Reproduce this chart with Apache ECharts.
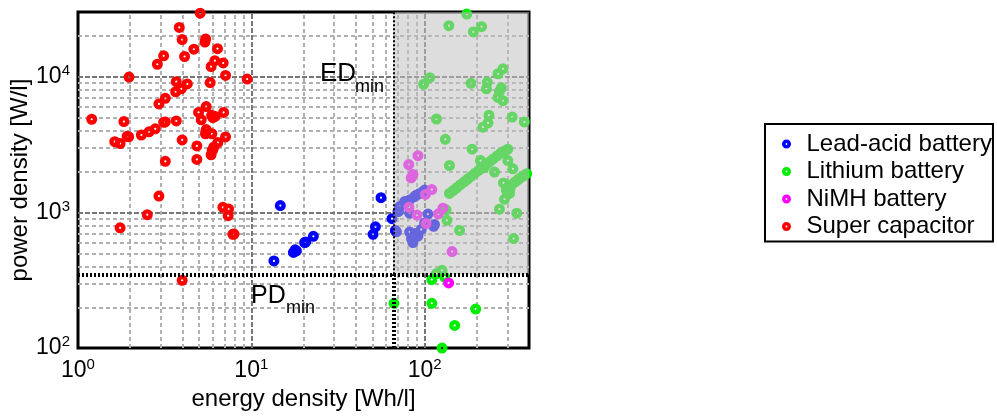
<!DOCTYPE html>
<html lang="en">
<head>
<meta charset="UTF-8">
<title>Energy density vs power density</title>
<script src="https://cdn.jsdelivr.net/npm/echarts@6/dist/echarts.min.js"></script>
<style>
  html, body { margin: 0; padding: 0; background: #fff; }
  #chart { width: 997px; height: 416px; }
</style>
</head>
<body>
<div id="chart"></div>
<script>
// axis ranges and the two threshold lines
const xRange = [1, 400];
const yRange = [100, 30000];
const edMin = 66;
const pdMin = 350;

// [energy density Wh/l, power density W/l]
const leadAcid = [
  [14.7, 1124], [13.5, 439], [17.5, 507], [17.9, 530], [18.2, 520], [20.3, 599], [20.6, 605],
  [22.8, 667], [52, 783], [50.4, 689], [56, 1285], [64.8, 900],
  [100, 1460], [93.6, 1380], [87.5, 1306], [81.9, 1236], [76.7, 1202], [71.8, 1105], [70.2, 1016],
  [81.9, 988], [104.5, 972], [114, 814], [100, 836], [68.7, 720], [81.9, 716], [85.6, 599],
  [91.5, 670], [95.6, 749], [112.7, 790], [67.8, 737], [78.6, 1200], [89.5, 1340], [97.8, 1420],
  [70.6, 1016], [84, 640], [88, 700]
];

const lithium = [
  [175, 28950], [138, 23800], [191, 21400], [213, 23400], [283, 11430], [265, 10520], [107, 9840],
  [98.6, 8800], [185, 8940], [230, 9090], [227, 8140], [277, 8280], [270, 7770], [265, 7040],
  [283, 6660], [117, 4880], [235, 5210], [232, 4565], [217, 4250], [320, 5045], [376, 4640],
  [131.6, 3455], [188, 2924], [139, 2217], [210, 2410], [220, 2130], [253, 1983], [302, 2410],
  [323, 2094], [285, 1650], [296, 1460], [309, 1380], [289, 1250], [270, 1057], [340, 988],
  [133, 1046], [134.5, 875], [159, 737], [326, 641], [300, 1420], [310, 1480],
  [110, 320], [117, 354], [126, 374], [130.5, 334], [66.5, 214], [110, 214], [197, 194],
  [149, 147], [126, 100],
  [139, 1380], [146, 1450], [153, 1520], [161, 1600], [169, 1680], [177, 1760], [186, 1850],
  [195, 1940], [205, 2040], [215, 2140], [226, 2250], [237, 2360], [249, 2480], [262, 2610],
  [275, 2740], [289, 2830], [302, 2924],
  [296, 1500], [308, 1555], [320, 1615], [333, 1680], [346, 1745], [360, 1810], [374, 1870], [388, 1930]
];

const nimh = [
  [91.5, 2620], [80.9, 2254], [85.6, 1907], [83.6, 1800], [110, 1475], [101, 1357], [81.2, 1093],
  [90.3, 956], [120, 976], [127.5, 1074], [102, 828], [144, 515], [137.5, 302]
];

const superCap = [
  [5.07, 29400], [3.84, 23100], [3.99, 18800], [5.40, 18000], [5.45, 19000], [4.66, 15950],
  [6.38, 16100], [3.12, 14260], [4.12, 14100], [2.87, 12360], [6.16, 13130], [5.86, 11880],
  [6.88, 12630], [7.10, 10230], [1.97, 9950], [9.46, 9620], [3.69, 9200], [4.27, 8850],
  [5.79, 9050], [3.66, 7750], [3.94, 8140], [3.19, 6930], [2.93, 6300], [1.20, 4860], [1.84, 4670],
  [5.49, 6030], [4.96, 5460], [6.18, 5100], [6.92, 5460], [5.14, 4820], [3.69, 4720], [3.12, 4620],
  [3.19, 4640], [5.9, 5200], [6.0, 5000], [5.49, 4080], [5.44, 3800], [5.92, 3800], [7.10, 3600],
  [6.41, 3270], [2.79, 4130], [2.57, 3930], [2.32, 3720], [1.96, 3610], [1.92, 3640], [1.63, 3320],
  [1.75, 3220], [3.99, 3420], [4.85, 3090], [6.0, 2910], [6.08, 3040], [5.86, 2660], [5.94, 2850],
  [4.85, 2460], [3.19, 2380], [2.93, 1320], [6.85, 1090], [7.39, 1060], [7.35, 946], [2.51, 962],
  [1.75, 770], [7.82, 689], [7.95, 692], [3.99, 316]
];

const seriesNames = ['Lead-acid battery', 'Lithium battery', 'NiMH battery', 'Super capacitor'];
const seriesColors = ['#0000ff', '#00ee00', '#ff00ff', '#ff0000'];
const seriesData = [leadAcid, lithium, nimh, superCap];

const FONT = 'Liberation Sans, Arial, sans-serif';
// filled dot with a small white hole, like the matlab markers
const RING = 'path://M10,0A10,10,0,1,1,-10,0A10,10,0,1,1,10,0ZM2,0A2,2,0,1,0,-2,0A2,2,0,1,0,2,0Z';

// log grid: 1..9 times each decade inside the range
function gridValues(lo, hi) {
  const out = [];
  for (let p = Math.floor(Math.log10(lo)); p <= Math.ceil(Math.log10(hi)); p++) {
    for (let m = 1; m <= 9; m++) {
      const v = m * Math.pow(10, p);
      if (v > lo && v < hi) out.push({ v: v, major: m === 1 });
    }
  }
  return out;
}

function gridStyle(major) {
  return major
    ? { color: '#777', width: 2, type: [5, 2] }
    : { color: '#b0b0b0', width: 2, type: [4, 3] };
}

const gridLines = []
  .concat(gridValues(xRange[0], xRange[1]).map(g => ({ xAxis: g.v, lineStyle: gridStyle(g.major) })))
  .concat(gridValues(yRange[0], yRange[1]).map(g => ({ yAxis: g.v, lineStyle: gridStyle(g.major) })));

function powLabel(v) {
  const e = Math.round(Math.log10(v));
  if (Math.abs(Math.log10(v) - e) > 1e-6) return '';
  return '{b|10}{s|' + e + '}';
}

const labelRich = {
  b: { fontSize: 23, fontFamily: FONT, color: '#000' },
  s: { fontSize: 15, fontFamily: FONT, color: '#000', padding: [0, 0, 12, 0] }
};

const chart = echarts.init(document.getElementById('chart'));

const scatterSeries = seriesNames.map((name, i) => ({
  name: name,
  type: 'scatter',
  data: seriesData[i],
  symbol: RING,
  symbolSize: 11,
  itemStyle: { color: seriesColors[i], opacity: 1 },
  z: 2,
  silent: true
}));

const option = {
  animation: false,
  backgroundColor: '#fff',
  grid: {
    left: 78, top: 12, width: 451, height: 342,
    show: true, borderColor: '#000', borderWidth: 3, backgroundColor: 'transparent'
  },
  legend: {
    data: seriesNames,
    orient: 'vertical',
    left: 765,
    top: 124,
    borderColor: '#000',
    borderWidth: 2,
    borderRadius: 0,
    padding: [8, 1, 3, 17],
    itemGap: 3.5,
    itemWidth: 30,
    itemHeight: 9,
    icon: RING,
    textStyle: { fontSize: 24, fontFamily: FONT, color: '#000', lineHeight: 24 },
    selectedMode: false
  },
  xAxis: {
    type: 'log',
    logBase: 10,
    min: xRange[0],
    max: xRange[1],
    name: 'energy density [Wh/l]',
    nameLocation: 'middle',
    nameGap: 38,
    nameTextStyle: { fontSize: 24, fontFamily: FONT, color: '#000' },
    axisLine: { show: false },
    axisTick: { show: true, inside: true, length: 5, lineStyle: { color: '#000', width: 2 } },
    axisLabel: { formatter: powLabel, rich: labelRich, margin: 9, showMaxLabel: false },
    splitLine: { show: false }
  },
  yAxis: {
    type: 'log',
    logBase: 10,
    min: yRange[0],
    max: yRange[1],
    name: 'power density [W/l]',
    nameLocation: 'middle',
    nameGap: 42,
    nameTextStyle: { fontSize: 24, fontFamily: FONT, color: '#000' },
    axisLine: { show: false },
    axisTick: { show: true, inside: true, length: 5, lineStyle: { color: '#000', width: 2 } },
    axisLabel: { formatter: powLabel, rich: labelRich, margin: 8, showMaxLabel: false },
    splitLine: { show: false }
  },
  series: [
    {
      name: 'grid',
      type: 'line',
      data: [],
      z: 1,
      silent: true,
      markLine: {
        z: 1,
        silent: true,
        symbol: 'none',
        label: { show: false },
        emphasis: { disabled: true },
        data: gridLines
      }
    },
    ...scatterSeries,
    {
      name: 'target area',
      type: 'line',
      data: [],
      z: 3,
      silent: true,
      markArea: {
        z: 3,
        silent: true,
        itemStyle: { color: 'rgba(191,191,191,0.53)' },
        data: [[{ coord: [edMin, pdMin] }, { coord: [xRange[1], yRange[1]] }]]
      }
    },
    {
      name: 'limits',
      type: 'line',
      data: [],
      z: 4,
      silent: true,
      markLine: {
        z: 4,
        silent: true,
        symbol: 'none',
        label: { show: false },
        emphasis: { disabled: true },
        data: [
          [{ coord: [edMin, pdMin], lineStyle: { color: '#000', width: 2, type: [2, 2] } },
           { coord: [edMin, yRange[1]] }],
          [{ coord: [edMin, yRange[0]], lineStyle: { color: '#000', width: 4, type: [2, 2] } },
           { coord: [edMin, pdMin] }],
          [{ coord: [xRange[0], pdMin], lineStyle: { color: '#000', width: 4, type: [2, 2] } },
           { coord: [xRange[1], pdMin] }]
        ]
      }
    }
  ],
  graphic: [
    { type: 'text', left: 320, top: 61, z: 10, silent: true,
      style: { text: 'ED', font: '26px ' + FONT, fill: '#000' } },
    { type: 'text', left: 355, top: 78, z: 10, silent: true,
      style: { text: 'min', font: '18px ' + FONT, fill: '#000' } },
    { type: 'text', left: 251, top: 284, z: 10, silent: true,
      style: { text: 'PD', font: '25px ' + FONT, fill: '#000' } },
    { type: 'text', left: 286, top: 299, z: 10, silent: true,
      style: { text: 'min', font: '18px ' + FONT, fill: '#000' } }
  ]
};

chart.setOption(option);
</script>
</body>
</html>
